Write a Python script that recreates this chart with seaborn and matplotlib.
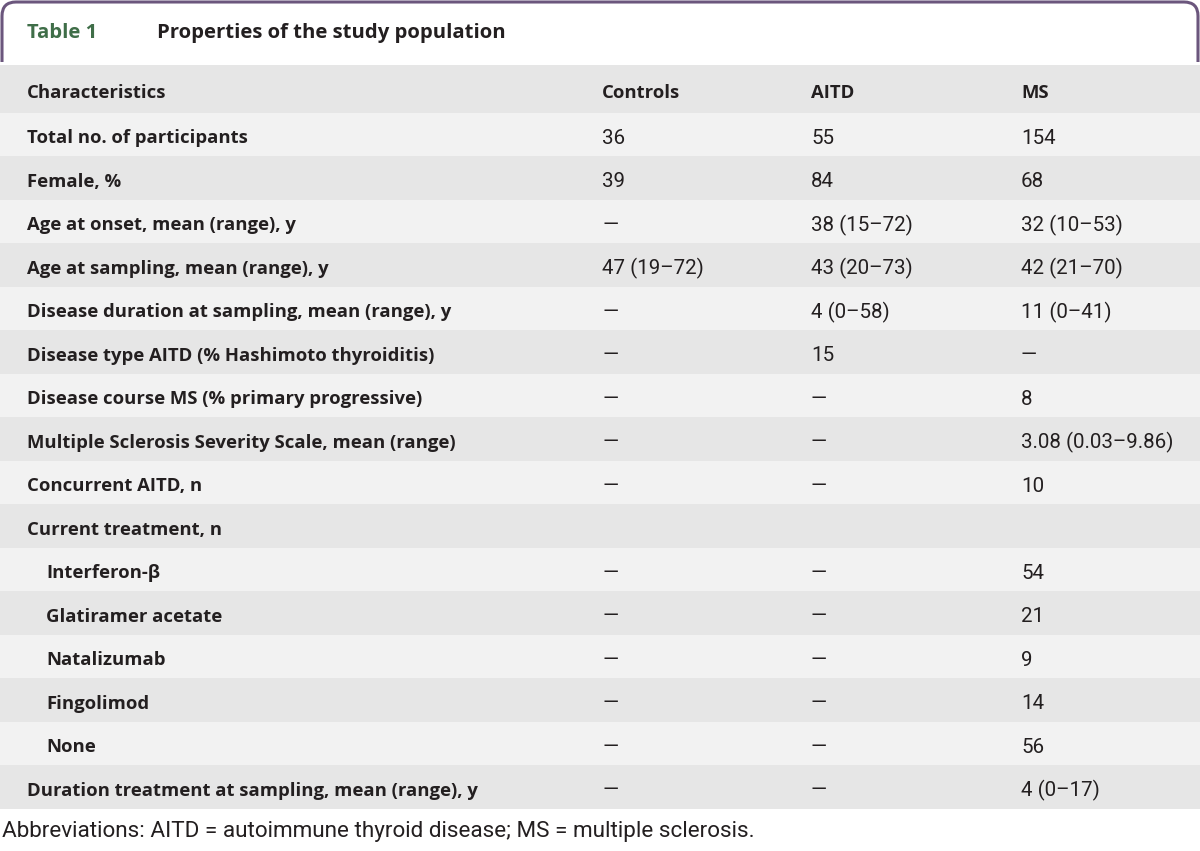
import numpy as np
import pandas as pd
import seaborn as sns
import matplotlib.pyplot as plt
from matplotlib.patches import FancyBboxPatch, Rectangle
from matplotlib.colors import ListedColormap

# Table content
TABLE_LABEL = "Table 1"
TABLE_TITLE = "Properties of the study population"
FOOTNOTE = "Abbreviations: AITD = autoimmune thyroid disease; MS = multiple sclerosis."

columns = ["Characteristics", "Controls", "AITD", "MS"]

characteristics = [
    "Total no. of participants",
    "Female, %",
    "Age at onset, mean (range), y",
    "Age at sampling, mean (range), y",
    "Disease duration at sampling, mean (range), y",
    "Disease type AITD (% Hashimoto thyroiditis)",
    "Disease course MS (% primary progressive)",
    "Multiple Sclerosis Severity Scale, mean (range)",
    "Concurrent AITD, n",
    "Current treatment, n",
    "Interferon-β",
    "Glatiramer acetate",
    "Natalizumab",
    "Fingolimod",
    "None",
    "Duration treatment at sampling, mean (range), y",
]
indented = [False] * 10 + [True] * 5 + [False]

controls = ["36", "39", "—", "47 (19–72)", "—", "—", "—", "—", "—", "",
            "—", "—", "—", "—", "—", "—"]
aitd = ["55", "84", "38 (15–72)", "43 (20–73)", "4 (0–58)", "15", "—", "—", "—", "",
        "—", "—", "—", "—", "—", "—"]
ms = ["154", "68", "32 (10–53)", "42 (21–70)", "11 (0–41)", "—", "8", "3.08 (0.03–9.86)",
      "10", "", "54", "21", "9", "14", "56", "4 (0–17)"]

df = pd.DataFrame({"Characteristics": characteristics, "Controls": controls,
                   "AITD": aitd, "MS": ms, "indent": indented})

# layout (pixels)
W, H = 1200, 851
HEADER_TOP, HEADER_BOTTOM = 65, 112.5
ROW_H = 43.5
COL_X = {"Characteristics": 27, "Controls": 602, "AITD": 811, "MS": 1021}
INDENT_X = 46
DY = 4  # small optical shift so text sits mid-row

LIGHT, DARK = "#f2f2f2", "#e6e6e6"
TEXT = "#231f20"
GREEN = "#3f6e48"
PURPLE = "#6b567d"

sns.set_theme(style="white")
HEAD_FONT = ["Open Sans", "DejaVu Sans"]
BODY_FONT = ["Roboto", "DejaVu Sans"]

fig = plt.figure(figsize=(W / 100, H / 100), dpi=100)

# striped body rows drawn as a one-column heatmap
body_bottom = HEADER_BOTTOM + ROW_H * len(df)
hax = fig.add_axes([0, 1 - body_bottom / H, 1, (body_bottom - HEADER_BOTTOM) / H])
stripes = np.array([[i % 2] for i in range(len(df))])
sns.heatmap(stripes, ax=hax, cmap=ListedColormap([LIGHT, DARK]), cbar=False,
            xticklabels=False, yticklabels=False, linewidths=0)
hax.set_axis_off()

ax = fig.add_axes([0, 0, 1, 1])
ax.set_xlim(0, W)
ax.set_ylim(H, 0)
ax.set_axis_off()
ax.patch.set_alpha(0)

# title frame with rounded top corners
frame = FancyBboxPatch((2, 2), W - 4, 120, boxstyle="round,pad=0,rounding_size=14",
                       facecolor="none", edgecolor=PURPLE, linewidth=2.2)
ax.add_patch(frame)
clip = Rectangle((0, 0), W, 62, transform=ax.transData)
frame.set_clip_path(clip)

ax.text(27, 31 + 2, TABLE_LABEL, color=GREEN, fontsize=14.6, fontweight="bold",
        family=HEAD_FONT, va="center")
ax.text(157, 31 + 2, TABLE_TITLE, color=TEXT, fontsize=14.6, fontweight="bold",
        family=HEAD_FONT, va="center")

# header row
ax.add_patch(Rectangle((0, HEADER_TOP), W, HEADER_BOTTOM - HEADER_TOP,
                       facecolor=DARK, edgecolor="none", zorder=0))
hy = (HEADER_TOP + HEADER_BOTTOM) / 2 + DY
for col in columns:
    ax.text(COL_X[col], hy, col, color=TEXT, fontsize=13.3, fontweight="bold",
            family=HEAD_FONT, va="center")

# body rows
for i, row in df.iterrows():
    y = HEADER_BOTTOM + ROW_H * (i + 0.5) + DY
    x = INDENT_X if row["indent"] else COL_X["Characteristics"]
    ax.text(x, y, row["Characteristics"], color=TEXT, fontsize=13.3,
            fontweight="bold", family=HEAD_FONT, va="center")
    for col in columns[1:]:
        ax.text(COL_X[col], y, row[col], color=TEXT, fontsize=14.8,
                family=BODY_FONT, va="center")

ax.text(2, 831, FOOTNOTE, color=TEXT, fontsize=16.2, family=BODY_FONT, va="center")

fig.savefig("out.png", dpi=100)
